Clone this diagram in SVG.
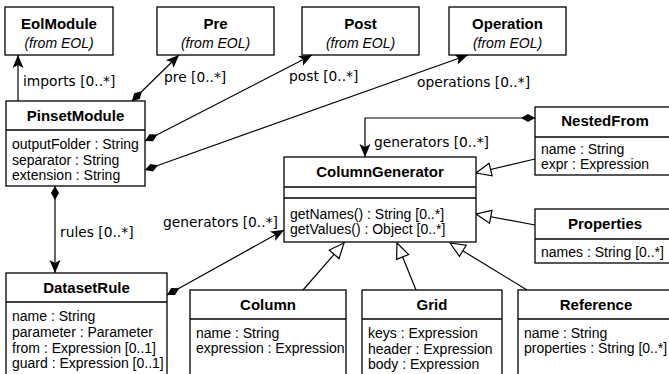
<svg xmlns="http://www.w3.org/2000/svg" width="669" height="374" viewBox="0 0 669 374">
<defs>
<style>
rect.b{fill:#fff;stroke:#000;stroke-width:1.3}
line.d,path.d{stroke:#000;stroke-width:1.3}
.t{font-family:"Liberation Sans",Arial,sans-serif;font-size:15px;font-weight:bold;text-anchor:middle}
.i{font-family:"Liberation Sans",Arial,sans-serif;font-size:14px;font-style:italic;text-anchor:middle}
.a{font-family:"Liberation Sans",Arial,sans-serif;font-size:14px}
.l{font-family:"DejaVu Sans",sans-serif;font-size:13.8px}
.c{fill:none;stroke:#000;stroke-width:1.2}
</style>
<marker id="dia" markerUnits="userSpaceOnUse" markerWidth="20" markerHeight="12" refX="0" refY="6" orient="auto" viewBox="0 0 20 12" overflow="visible">
<path d="M0,6 L7,2 L14,6 L7,10 z" fill="#000"/>
</marker>
<marker id="arr" markerUnits="userSpaceOnUse" markerWidth="14" markerHeight="12" refX="14" refY="6" orient="auto" viewBox="0 0 14 12" overflow="visible">
<path d="M14,6 L1,0.5 L4,6 L1,11.5 z" fill="#000"/>
</marker>
<marker id="gen" markerUnits="userSpaceOnUse" markerWidth="16" markerHeight="14" refX="15" refY="7" orient="auto" viewBox="0 0 16 14" overflow="visible">
<path d="M15,7 L0,0.5 L0,13.5 z" fill="#fff" stroke="#000" stroke-width="1.2"/>
</marker>
</defs>
<rect width="669" height="374" fill="#fff"/>

<g id="connectors">
<path class="c" d="M18,101 V55" marker-end="url(#arr)"/>
<path class="c" d="M132,101 L179,55" marker-start="url(#dia)" marker-end="url(#arr)"/>
<path class="c" d="M145,141 L312,55" marker-start="url(#dia)" marker-end="url(#arr)"/>
<path class="c" d="M145,170 L468,55" marker-start="url(#dia)" marker-end="url(#arr)"/>
<path class="c" d="M55,186 V273" marker-start="url(#dia)" marker-end="url(#arr)"/>
<path class="c" d="M167,295 L284,230" marker-start="url(#dia)" marker-end="url(#arr)"/>
<path class="c" d="M535,118 H365 V157" marker-start="url(#dia)" marker-end="url(#arr)"/>
<path class="c" d="M535,159 L476,173" marker-end="url(#gen)"/>
<path class="c" d="M535,225 L476,214" marker-end="url(#gen)"/>
<path class="c" d="M303,290 L344,243" marker-end="url(#gen)"/>
<path class="c" d="M416,290 L397,243" marker-end="url(#gen)"/>
<path class="c" d="M527,290 L450,243" marker-end="url(#gen)"/>
<text class="l" x="23" y="86">imports [0..*]</text>
<text class="l" x="164" y="82">pre [0..*]</text>
<text class="l" x="289" y="81">post [0..*]</text>
<text class="l" x="417" y="87">operations [0..*]</text>
<text class="l" x="60" y="237">rules [0..*]</text>
<text class="l" x="163" y="227">generators [0..*]</text>
<text class="l" x="374" y="147">generators [0..*]</text>
</g>

<g id="EolModule">
<rect class="b" x="5" y="7" width="108" height="48"/>
<text class="t" x="59" y="29">EolModule</text>
<text class="i" x="59" y="48">(from EOL)</text>
</g>
<g id="Pre">
<rect class="b" x="157" y="7" width="117" height="48"/>
<text class="t" x="215.5" y="29">Pre</text>
<text class="i" x="215.5" y="48">(from EOL)</text>
</g>
<g id="Post">
<rect class="b" x="302" y="7" width="117" height="48"/>
<text class="t" x="360.5" y="29">Post</text>
<text class="i" x="360.5" y="48">(from EOL)</text>
</g>
<g id="Operation">
<rect class="b" x="449" y="7" width="117" height="48"/>
<text class="t" x="507.5" y="29">Operation</text>
<text class="i" x="507.5" y="48">(from EOL)</text>
</g>

<g id="PinsetModule">
<rect class="b" x="6" y="101" width="139" height="85"/>
<line class="d" x1="6" y1="130" x2="145" y2="130"/>
<text class="t" x="75.5" y="121">PinsetModule</text>
<text class="a" x="12" y="149">outputFolder : String</text>
<text class="a" x="12" y="164.5">separator : String</text>
<text class="a" x="12" y="180">extension : String</text>
</g>

<g id="ColumnGenerator">
<rect class="b" x="284" y="157" width="192" height="85"/>
<line class="d" x1="284" y1="187" x2="476" y2="187"/>
<line class="d" x1="284" y1="198" x2="476" y2="198"/>
<text class="t" x="380" y="177">ColumnGenerator</text>
<text class="a" x="290" y="219">getNames() : String [0..*]</text>
<text class="a" x="290" y="234">getValues() : Object [0..*]</text>
</g>

<g id="NestedFrom">
<rect class="b" x="535" y="107" width="140" height="68"/>
<line class="d" x1="535" y1="137" x2="675" y2="137"/>
<text class="t" x="605" y="126">NestedFrom</text>
<text class="a" x="541" y="154">name : String</text>
<text class="a" x="541" y="169">expr : Expression</text>
</g>

<g id="Properties">
<rect class="b" x="535" y="209" width="140" height="54"/>
<line class="d" x1="535" y1="239" x2="675" y2="239"/>
<text class="t" x="605" y="229">Properties</text>
<text class="a" x="541" y="257">names : String [0..*]</text>
</g>

<g id="DatasetRule">
<rect class="b" x="6" y="273" width="161" height="110"/>
<line class="d" x1="6" y1="302" x2="167" y2="302"/>
<text class="t" x="86.5" y="293">DatasetRule</text>
<text class="a" x="12" y="321">name : String</text>
<text class="a" x="12" y="337">parameter : Parameter</text>
<text class="a" x="12" y="352.5">from : Expression [0..1]</text>
<text class="a" x="12" y="368">guard : Expression [0..1]</text>
</g>

<g id="Column">
<rect class="b" x="190" y="290" width="156" height="95"/>
<line class="d" x1="190" y1="319" x2="346" y2="319"/>
<text class="t" x="268" y="310">Column</text>
<text class="a" x="196" y="338">name : String</text>
<text class="a" x="196" y="353">expression : Expression</text>
</g>

<g id="Grid">
<rect class="b" x="362" y="290" width="140" height="95"/>
<line class="d" x1="362" y1="319" x2="502" y2="319"/>
<text class="t" x="432" y="310">Grid</text>
<text class="a" x="368" y="338">keys : Expression</text>
<text class="a" x="368" y="353.5">header : Expression</text>
<text class="a" x="368" y="369">body : Expression</text>
</g>

<g id="Reference">
<rect class="b" x="518" y="290" width="156" height="95"/>
<line class="d" x1="518" y1="319" x2="674" y2="319"/>
<text class="t" x="596" y="310">Reference</text>
<text class="a" x="524" y="338">name : String</text>
<text class="a" x="524" y="353">properties : String [0..*]</text>
</g>
</svg>
